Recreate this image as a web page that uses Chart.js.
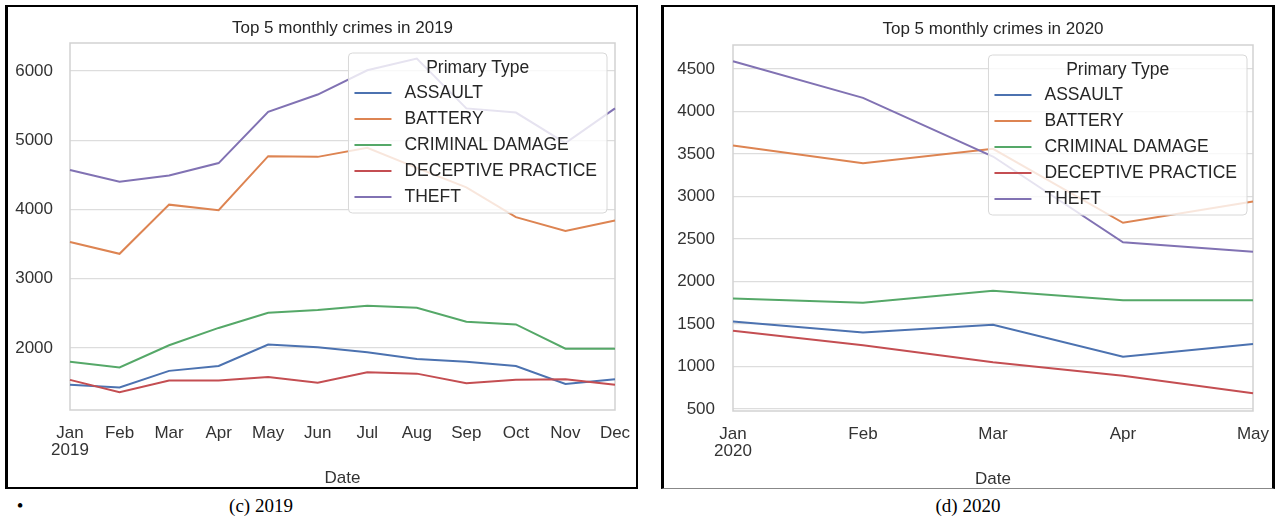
<!DOCTYPE html>
<html>
<head>
<meta charset="utf-8">
<script src="https://cdn.jsdelivr.net/npm/chart.js@4.4.0/dist/chart.umd.min.js"></script>
<style>
  body {
    margin: 0;
    width: 1276px;
    height: 520px;
    background: #fff;
    position: relative;
    overflow: hidden;
    font-family: "Liberation Serif", "Times New Roman", serif;
  }
  .panel { position: absolute; }
  .panel canvas { display: block; }
  #panel2019 {
    left: 5px; top: 5px; width: 628px; height: 480px;
    border: 2px solid #000; border-left-width: 3px;
  }
  #panel2020 {
    left: 661px; top: 5px; width: 608px; height: 481px;
    border: 3px solid #000; border-top-width: 2px; border-bottom: 1px solid #888;
  }
  .caption {
    position: absolute;
    top: 495px;
    font-size: 19px;
    line-height: 22px;
    color: #000;
    transform: translateX(-50%);
    white-space: nowrap;
  }
</style>
</head>
<body>
<div class="panel" id="panel2019"><canvas id="chart2019" width="628" height="480"></canvas></div>
<div class="panel" id="panel2020"><canvas id="chart2020" width="608" height="481"></canvas></div>
<div class="caption" style="left:20px">•</div>
<div class="caption" style="left:261px">(c) 2019</div>
<div class="caption" style="left:968px">(d) 2020</div>

<script>
const sans = '"Liberation Sans", Arial, sans-serif';
const textColor = '#333333';

const crimeTypes = ['ASSAULT', 'BATTERY', 'CRIMINAL DAMAGE', 'DECEPTIVE PRACTICE', 'THEFT'];
const crimeColors = ['#4c72b0', '#dd8452', '#55a868', '#c44e52', '#8172b3'];

// 2019, Jan..Dec
const months2019 = [['Jan', '2019'], 'Feb', 'Mar', 'Apr', 'May', 'Jun', 'Jul', 'Aug', 'Sep', 'Oct', 'Nov', 'Dec'];
const assault2019 = [1470, 1430, 1670, 1740, 2050, 2010, 1940, 1840, 1800, 1740, 1480, 1550];
const battery2019 = [3530, 3360, 4070, 3990, 4770, 4760, 4890, 4600, 4320, 3890, 3690, 3840];
const damage2019 = [1800, 1720, 2040, 2290, 2510, 2550, 2610, 2580, 2380, 2340, 1990, 1990];
const deceptive2019 = [1540, 1360, 1530, 1530, 1580, 1500, 1650, 1630, 1490, 1540, 1550, 1470];
const theft2019 = [4570, 4400, 4490, 4670, 5410, 5660, 6010, 6180, 5460, 5400, 4960, 5460];
const yTicks2019 = [2000, 3000, 4000, 5000, 6000];

// 2020, Jan..May
const months2020 = [['Jan', '2020'], 'Feb', 'Mar', 'Apr', 'May'];
const assault2020 = [1530, 1400, 1490, 1115, 1265];
const battery2020 = [3600, 3390, 3560, 2690, 2940];
const damage2020 = [1800, 1750, 1890, 1780, 1780];
const deceptive2020 = [1420, 1250, 1050, 890, 685];
const theft2020 = [4590, 4160, 3470, 2460, 2350];
const yTicks2020 = [500, 1000, 1500, 2000, 2500, 3000, 3500, 4000, 4500];

function buildDatasets(series) {
    return crimeTypes.map(function (name, i) {
        return {
            label: name,
            data: series[i],
            borderColor: crimeColors[i],
            backgroundColor: crimeColors[i],
            borderWidth: 2,
            pointRadius: 0,
            tension: 0,
            fill: false,
            order: crimeTypes.length - i   // later series sit on top
        };
    });
}

// light grey box round the plot area
const plotFrame = {
    id: 'plotFrame',
    beforeDatasetsDraw(chart) {
        const a = chart.chartArea;
        const ctx = chart.ctx;
        ctx.save();
        ctx.strokeStyle = '#d2d2d2';
        ctx.lineWidth = 1.5;
        ctx.strokeRect(a.left, a.top, a.right - a.left, a.bottom - a.top);
        ctx.restore();
    }
};

// boxed legend with a title, drawn inside the top right of the plot
const legendBox = {
    id: 'legendBox',
    afterDatasetsDraw(chart, args, opts) {
        const ctx = chart.ctx;
        const a = chart.chartArea;
        ctx.save();
        ctx.font = '17.5px ' + sans;
        const widest = Math.max(...chart.data.datasets.map(d => ctx.measureText(d.label).width));
        const w = 56 + widest + 10;
        const h = 160;
        const x = a.right - opts.inset - w;
        const y = a.top + 10;

        ctx.beginPath();
        ctx.roundRect(x, y, w, h, 4);
        ctx.fillStyle = 'rgba(255, 255, 255, 0.8)';
        ctx.fill();
        ctx.strokeStyle = '#d8d8d8';
        ctx.lineWidth = 1;
        ctx.stroke();

        ctx.fillStyle = '#262626';
        ctx.textBaseline = 'middle';
        ctx.textAlign = 'center';
        ctx.fillText('Primary Type', x + w / 2, y + 15);

        ctx.textAlign = 'left';
        chart.data.datasets.forEach(function (d, i) {
            const cy = y + 40 + i * 26;
            ctx.strokeStyle = d.borderColor;
            ctx.lineWidth = 2;
            ctx.beginPath();
            ctx.moveTo(x + 6, cy);
            ctx.lineTo(x + 43, cy);
            ctx.stroke();
            ctx.fillStyle = '#262626';
            ctx.fillText(d.label, x + 56, cy);
        });
        ctx.restore();
    }
};

function makeChart(canvasId, cfg) {
    return new Chart(document.getElementById(canvasId), {
        type: 'line',
        data: {
            labels: cfg.labels,
            datasets: buildDatasets(cfg.series)
        },
        plugins: [plotFrame, legendBox],
        options: {
            responsive: false,
            animation: false,
            layout: { padding: { left: 0, right: cfg.padRight, top: 0, bottom: 0 } },
            plugins: {
                legend: { display: false },
                tooltip: { enabled: false },
                legendBox: { inset: cfg.legendInset },
                title: {
                    display: true,
                    fullSize: false,
                    text: cfg.title,
                    color: '#262626',
                    font: { family: sans, size: 17, weight: 'normal' },
                    padding: cfg.titlePadding
                }
            },
            scales: {
                x: {
                    type: 'category',
                    offset: false,
                    // tick marks are hidden; their length only pushes the labels down
                    grid: { display: false, drawTicks: true, tickLength: 14 },
                    border: { display: false },
                    ticks: {
                        autoSkip: false,
                        maxRotation: 0,
                        padding: 0,
                        color: textColor,
                        font: { family: sans, size: 17, lineHeight: 1.05 }
                    },
                    title: {
                        display: true,
                        text: 'Date',
                        color: textColor,
                        padding: 0,
                        font: { family: sans, size: 17, lineHeight: 1 }
                    },
                    afterFit(scale) { scale.height = 77; }
                },
                y: {
                    min: cfg.yMin,
                    max: cfg.yMax,
                    grid: { color: '#dddddd', lineWidth: 1.25, drawTicks: false },
                    border: { display: false },
                    ticks: {
                        padding: cfg.tickPad,
                        color: textColor,
                        font: { family: sans, size: 17 },
                        callback: v => String(v)
                    },
                    afterBuildTicks(scale) {
                        scale.ticks = cfg.yTicks.map(v => ({ value: v }));
                    },
                    afterFit(scale) { scale.width = cfg.yWidth; }
                }
            }
        }
    });
}

makeChart('chart2019', {
    title: 'Top 5 monthly crimes in 2019',
    labels: months2019,
    series: [assault2019, battery2019, damage2019, deceptive2019, theft2019],
    yTicks: yTicks2019,
    yMin: 1105,
    yMax: 6404,
    yWidth: 62,
    tickPad: 17,
    padRight: 21,
    legendInset: 8,
    titlePadding: { top: 11, bottom: 4.6 }
});

makeChart('chart2020', {
    title: 'Top 5 monthly crimes in 2020',
    labels: months2020,
    series: [assault2020, battery2020, damage2020, deceptive2020, theft2020],
    yTicks: yTicks2020,
    yMin: 476,
    yMax: 4782,
    yWidth: 69,
    tickPad: 18,
    padRight: 19,
    legendInset: 6,
    titlePadding: { top: 12, bottom: 5.6 }
});
</script>
</body>
</html>
